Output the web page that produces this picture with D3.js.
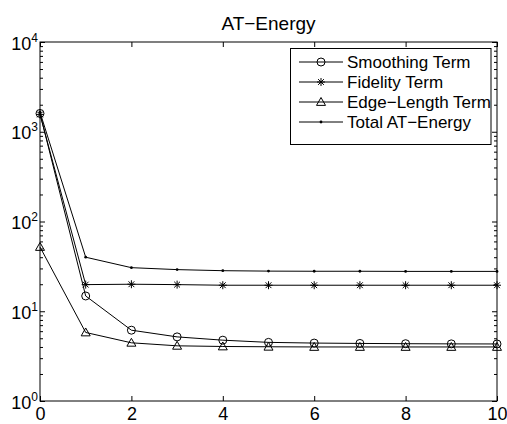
<!DOCTYPE html>
<html>
<head>
<meta charset="utf-8">
<script src="https://cdn.jsdelivr.net/npm/d3@7"></script>
<style>
  html, body { margin: 0; padding: 0; background: #fff; }
  svg { display: block; }
  text { font-family: "Liberation Sans", Arial, Helvetica, sans-serif; fill: #000; }
</style>
</head>
<body>
<svg id="chart" width="507" height="424"></svg>
<script>
// ---- Data ----
const iterations = [0, 1, 2, 3, 4, 5, 6, 7, 8, 9, 10];
const smoothing = [1600, 14.8, 6.15, 5.18, 4.76, 4.5, 4.42, 4.38, 4.35, 4.33, 4.32];
const fidelity  = [1560, 19.8, 20.0, 19.8, 19.5, 19.5, 19.5, 19.5, 19.5, 19.5, 19.5];
const edgeLen   = [52, 5.8, 4.45, 4.12, 4.05, 4.02, 4.0, 4.0, 4.0, 4.0, 4.0];
const total     = [1650, 40, 30.6, 29.1, 28.3, 28.0, 27.9, 27.9, 27.8, 27.8, 27.8];
const seriesNames = ["Smoothing Term", "Fidelity Term", "Edge\u2212Length Term", "Total AT\u2212Energy"];
const seriesMarkers = ["circle", "star", "triangle", "dot"];
const xTicks = [0, 2, 4, 6, 8, 10];
const yTickExponents = [0, 1, 2, 3, 4];
const titleText = "AT\u2212Energy";

const seriesValues = [smoothing, fidelity, edgeLen, total];

// ---- Layout ----
const svg = d3.select("#chart");
const L = 40, R = 497, T = 42, B = 401;
const x = d3.scaleLinear().domain([0, 10]).range([L, R]);
const y = d3.scaleLog().domain([1, 10000]).range([B, T]);

const majorY = yTickExponents.map(e => Math.pow(10, e));
const minorY = [];
for (let e = 0; e < 4; e++) for (let k = 2; k <= 9; k++) minorY.push(k * Math.pow(10, e));

// axes (ticks pointing inward)
function styleAxis(g) {
  g.select(".domain").remove();
  g.selectAll(".tick line").attr("stroke", "#000").attr("stroke-width", 1);
}
svg.append("g").attr("transform", `translate(${L},0)`)
  .call(d3.axisLeft(y).tickValues(minorY).tickSize(-3).tickFormat("")).call(styleAxis);
svg.append("g").attr("transform", `translate(${R},0)`)
  .call(d3.axisRight(y).tickValues(minorY).tickSize(-3).tickFormat("")).call(styleAxis);
svg.append("g").attr("transform", `translate(${R},0)`)
  .call(d3.axisRight(y).tickValues(majorY).tickSize(-5).tickFormat("")).call(styleAxis);
svg.append("g").attr("transform", `translate(0,${T})`)
  .call(d3.axisTop(x).tickValues(xTicks).tickSize(-5).tickFormat("")).call(styleAxis);

const leftAx = svg.append("g").attr("transform", `translate(${L},0)`)
  .call(d3.axisLeft(y).tickValues(majorY).tickSize(-5).tickFormat("")).call(styleAxis);
leftAx.selectAll(".tick text").remove();
leftAx.selectAll(".tick").each(function(d) {
  const t = d3.select(this).append("text")
    .attr("x", -2).attr("y", 7)
    .attr("text-anchor", "end")
    .attr("font-size", 18);
  t.append("tspan").text("10");
  t.append("tspan").attr("font-size", 12).attr("dy", -8).text(String(Math.round(Math.log10(d))));
});

const bottomAx = svg.append("g").attr("transform", `translate(0,${B})`)
  .call(d3.axisBottom(x).tickValues(xTicks).tickSize(-5).tickFormat(d3.format("d"))).call(styleAxis);
bottomAx.selectAll(".tick text").attr("y", 19).attr("dy", 0)
  .attr("font-size", 18).attr("font-family", "Liberation Sans, Arial, sans-serif");

// frame
svg.append("rect").attr("x", L).attr("y", T).attr("width", R - L).attr("height", B - T)
  .attr("fill", "none").attr("stroke", "#000").attr("stroke-width", 1);

// markers
function drawMarker(g, type, cx, cy) {
  if (type === "circle") {
    g.append("circle").attr("cx", cx).attr("cy", cy).attr("r", 4)
      .attr("fill", "none").attr("stroke", "#000").attr("stroke-width", 1);
  } else if (type === "triangle") {
    const s = 4.5;
    g.append("path")
      .attr("d", `M${cx},${cy - s}L${cx + s},${cy + s * 0.75}L${cx - s},${cy + s * 0.75}Z`)
      .attr("fill", "none").attr("stroke", "#000").attr("stroke-width", 1);
  } else if (type === "star") {
    const s = 4, d = 2.9;
    g.append("path")
      .attr("d", `M${cx - s},${cy}L${cx + s},${cy}M${cx},${cy - s}L${cx},${cy + s}` +
                 `M${cx - d},${cy - d}L${cx + d},${cy + d}M${cx - d},${cy + d}L${cx + d},${cy - d}`)
      .attr("fill", "none").attr("stroke", "#000").attr("stroke-width", 1);
  } else if (type === "dot") {
    g.append("circle").attr("cx", cx).attr("cy", cy).attr("r", 1.4).attr("fill", "#000");
  }
}

const line = d3.line().x((d, i) => x(iterations[i])).y(d => y(d));
const plot = svg.append("g");
seriesValues.forEach((vals, si) => {
  const g = plot.append("g");
  g.append("path").attr("d", line(vals)).attr("fill", "none")
    .attr("stroke", "#000").attr("stroke-width", 1);
  vals.forEach((v, i) => drawMarker(g, seriesMarkers[si], x(iterations[i]), y(v)));
});

// title
svg.append("text").attr("x", (L + R) / 2).attr("y", 30).attr("text-anchor", "middle")
  .attr("font-size", 19).text(titleText);

// legend
const lg = svg.append("g");
lg.append("rect").attr("x", 290.5).attr("y", 48.5).attr("width", 200.5).attr("height", 96)
  .attr("fill", "#fff").attr("stroke", "#000").attr("stroke-width", 1);
const rowY = [62, 82, 102, 122];
seriesNames.forEach((name, i) => {
  const yy = rowY[i];
  lg.append("line").attr("x1", 299).attr("x2", 343).attr("y1", yy).attr("y2", yy)
    .attr("stroke", "#000").attr("stroke-width", 1);
  drawMarker(lg, seriesMarkers[i], 321, yy);
  lg.append("text").attr("x", 347).attr("y", yy + 6).attr("font-size", 17).text(name);
});
</script>
</body>
</html>
